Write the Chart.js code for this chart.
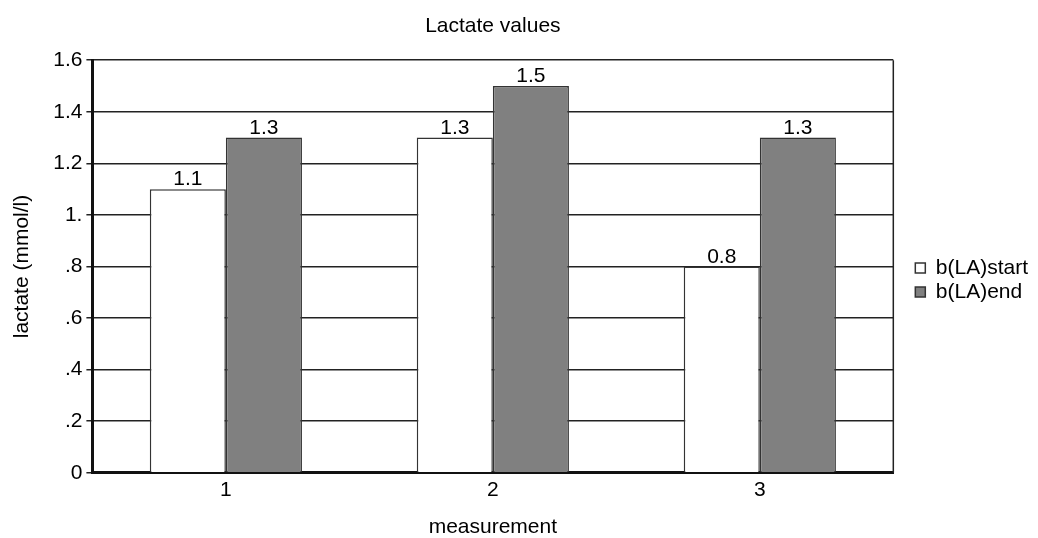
<!DOCTYPE html>
<html>
<head>
<meta charset="utf-8">
<script src="https://cdn.jsdelivr.net/npm/chart.js@4"></script>
<style>
  html, body { margin: 0; padding: 0; background: #fff; }
  #wrap { width: 1038px; height: 538px; }
</style>
</head>
<body>
<div id="wrap"><canvas id="chart"></canvas></div>
<script>
const categories = ['1', '2', '3'];
const startValues = [1.1, 1.3, 0.8];
const endValues = [1.3, 1.5, 1.3];
const tickLabels = {0: '0', 0.2: '.2', 0.4: '.4', 0.6: '.6', 0.8: '.8', 1: '1.', 1.2: '1.2', 1.4: '1.4', 1.6: '1.6'};

Chart.defaults.font.family = '"Liberation Sans", Arial, sans-serif';
Chart.defaults.font.size = 21;
Chart.defaults.color = '#000';

// numbers above the bars
const valueLabels = {
    id: 'valueLabels',
    afterDatasetsDraw(chart) {
        const ctx = chart.ctx;
        ctx.save();
        ctx.font = '21px "Liberation Sans", Arial, sans-serif';
        ctx.fillStyle = '#000';
        ctx.textAlign = 'center';
        ctx.textBaseline = 'alphabetic';
        chart.data.datasets.forEach((ds, i) => {
            chart.getDatasetMeta(i).data.forEach((bar, j) => {
                ctx.fillText(ds.data[j].toFixed(1), bar.x, bar.y - 4);
            });
        });
        ctx.restore();
    }
};

// right edge of the plot frame
const frame = {
    id: 'frame',
    beforeDatasetsDraw(chart) {
        const a = chart.chartArea;
        const ctx = chart.ctx;
        ctx.save();
        ctx.strokeStyle = '#222';
        ctx.lineWidth = 1.5;
        ctx.beginPath();
        ctx.moveTo(a.right, a.top);
        ctx.lineTo(a.right, a.bottom);
        ctx.stroke();
        ctx.restore();
    }
};

new Chart(document.getElementById('chart'), {
    type: 'bar',
    data: {
        labels: categories,
        datasets: [
            {
                label: 'b(LA)start',
                data: startValues,
                backgroundColor: '#ffffff',
                borderColor: '#333333',
                borderWidth: 1.5
            },
            {
                label: 'b(LA)end',
                data: endValues,
                backgroundColor: '#808080',
                borderColor: '#333333',
                borderWidth: 1.5
            }
        ]
    },
    options: {
        responsive: true,
        maintainAspectRatio: false,
        animation: false,
        categoryPercentage: 0.57,
        barPercentage: 1,
        layout: { padding: { left: 6, right: 0, top: 0, bottom: 0 } },
        plugins: {
            title: {
                display: true,
                fullSize: false,
                text: 'Lactate values',
                padding: { top: 14, bottom: 21 },
                font: { size: 21, weight: 'normal' }
            },
            legend: {
                position: 'right',
                title: {
                    display: true,
                    text: '',
                    font: { size: 10 },
                    padding: { top: 5, bottom: 5 }
                },
                labels: {
                    boxWidth: 10,
                    boxHeight: 10,
                    padding: 3,
                    color: '#000',
                    font: { size: 21 }
                }
            },
            tooltip: { enabled: false }
        },
        scales: {
            x: {
                grid: { display: false, drawTicks: false },
                border: { color: '#111', width: 3 },
                ticks: { padding: 5 },
                title: {
                    display: true,
                    text: 'measurement',
                    font: { size: 21, lineHeight: 1.0 },
                    padding: { top: 9, bottom: 0 }
                }
            },
            y: {
                min: 0,
                max: 1.6,
                ticks: {
                    stepSize: 0.2,
                    padding: 4,
                    callback: (v) => tickLabels[Math.round(v * 10) / 10]
                },
                grid: {
                    color: '#222',
                    lineWidth: 1.5,
                    tickLength: 6
                },
                border: { color: '#111', width: 3 },
                title: {
                    display: true,
                    text: 'lactate (mmol/l)',
                    padding: { top: 4, bottom: 14 }
                }
            },
            // empty spacer between plot and legend
            gap: {
                type: 'linear',
                position: 'right',
                grid: { display: false },
                border: { display: false },
                ticks: { display: false },
                afterFit: (scale) => { scale.width = 19; }
            }
        }
    },
    plugins: [valueLabels, frame]
});
</script>
</body>
</html>
